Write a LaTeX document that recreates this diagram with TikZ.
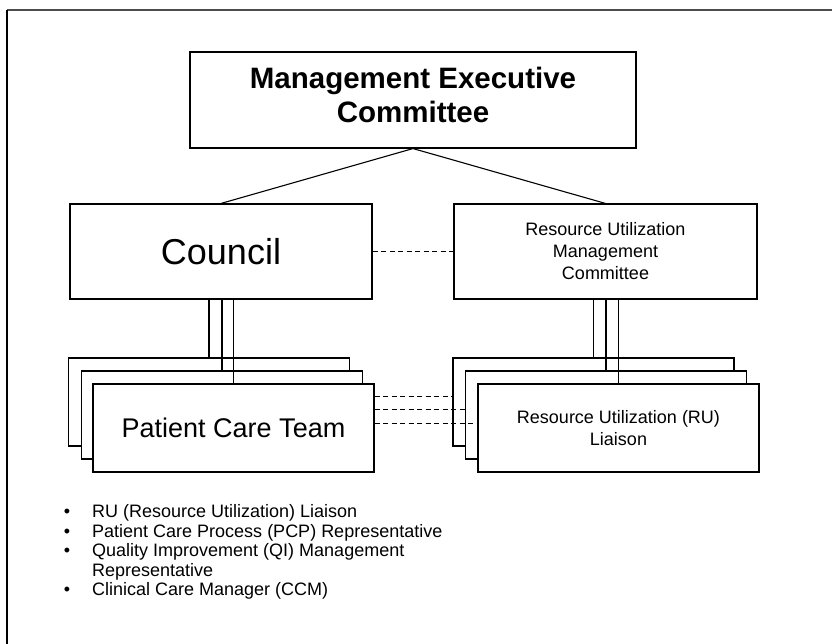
\documentclass[tikz,border=0pt]{standalone}
\usepackage{fontspec}
\setmainfont{Liberation Sans}
\usetikzlibrary{calc}
\begin{document}
\begin{tikzpicture}[x=1pt,y=-1pt,
  box/.style={draw=black,line width=1.1pt,fill=white,rectangle,inner sep=0pt,align=center},
  stackbox/.style={box,minimum width=281pt,minimum height=88pt},
  conn/.style={draw=black,line width=1.1pt},
  dashconn/.style={draw=black,line width=1pt,dash pattern=on 5pt off 3.5pt},
  txt/.style={inner sep=0pt,align=center},
  bul/.style={inner sep=0pt,anchor=base,font=\fontsize{18}{20}\selectfont},
  item/.style={inner sep=0pt,anchor=base west,font=\fontsize{18}{20}\selectfont},
]
\useasboundingbox (0,0) rectangle (832,644);
% frame
\draw[line width=2.5pt,draw=black!70] (7,10) -- (832,10);
\draw[line width=1.5pt] (7,10) -- (7,644);

% top box
\node[box,minimum width=446pt,minimum height=96pt] (mec) at (413,100) {};
\node[txt,font=\fontsize{29.5}{34}\selectfont\bfseries] (mectext) at (413,95) {Management Executive\\Committee};

% second level
\node[box,minimum width=302pt,minimum height=95pt,font=\fontsize{36}{40}\selectfont] (council) at (221,251.5) {Council};
\node[box,minimum width=303pt,minimum height=95pt,font=\fontsize{18}{22}\selectfont] (rumc) at (605.5,251.5) {Resource Utilization\\Management\\Committee};

% left stack
\node[stackbox] (p1) at (209,402) {};
\node[stackbox] (p2) at (222,415) {};
\node[stackbox,font=\fontsize{27}{30}\selectfont] (p3) at (233.5,428) {Patient Care Team};

% right stack
\node[stackbox] (r1) at (593.5,402) {};
\node[stackbox] (r2) at (606,415) {};
\node[stackbox,font=\fontsize{18}{22}\selectfont] (r3) at (618.5,428) {Resource Utilization (RU)\\Liaison};

% connectors
\draw[conn] (mec.south) -- (council.north);
\draw[conn] (mec.south) -- (rumc.north);
\draw[dashconn] (council.east) -- (rumc.west);

\foreach \b in {p1,p2,p3} {
  \draw[conn] (council.south -| \b.north) -- (\b.north);
}
\foreach \b in {r1,r2,r3} {
  \draw[conn] (rumc.south -| \b.north) -- (\b.north);
}

\coordinate (d1) at ($(r1.west)+(0,-6)$);
\coordinate (d2) at ($(r2.west)+(0,-6)$);
\coordinate (d3) at ($(r3.west)+(0,-5)$);
\draw[dashconn] (p3.east |- d1) -- (d1);
\draw[dashconn] (p3.east |- d2) -- (d2);
\draw[dashconn] (p3.east |- d3) -- (d3);

% bullet list
\node[bul] (bu1) at (67,517.5) {•};
\node[item] (it1) at (92,517.5) {RU (Resource Utilization) Liaison};
\node[bul] (bu2) at (67,537) {•};
\node[item] (it2) at (92,537) {Patient Care Process (PCP) Representative};
\node[bul] (bu3) at (67,556.5) {•};
\node[item] (it3) at (92,556.5) {Quality Improvement (QI) Management};
\node[item] (it3b) at (92,576) {Representative};
\node[bul] (bu4) at (67,595.5) {•};
\node[item] (it4) at (92,595.5) {Clinical Care Manager (CCM)};
\end{tikzpicture}
\end{document}
